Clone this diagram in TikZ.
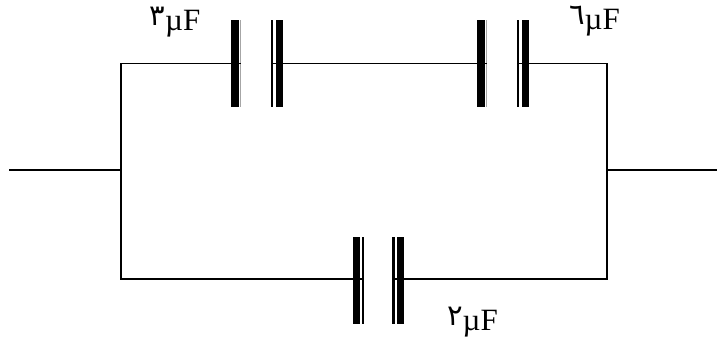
\documentclass[tikz,border=0pt]{standalone}
\usepackage{fontspec}
\setmainfont{Liberation Serif}
\newfontfamily\arabicfont[Script=Arabic]{DejaVu Sans}
\newcommand{\arabdigit}[1]{\makebox[15.5pt]{\raisebox{5pt}{\arabicfont\fontsize{29}{29}\selectfont #1}}}
\tikzset{
  x=1pt,y=-1pt,
  wire/.style={draw=black,line width=1.7pt},
  thickplate/.style={fill=black,draw=none,inner sep=0pt,minimum width=7.5pt,minimum height=87pt},
  thinplate/.style={fill=black,draw=none,inner sep=0pt,minimum width=2.2pt,minimum height=87pt},
  ghostplate/.style={fill=gray!70,draw=none,inner sep=0pt,minimum width=1pt,minimum height=87pt},
  value/.style={font=\fontsize{31}{31}\selectfont,inner sep=0pt,anchor=base west},
}
\begin{document}
\begin{tikzpicture}
\useasboundingbox (0,0) rectangle (720,343);
\fill[white] (0,0) rectangle (720,343);
% junctions
\coordinate (inL) at (9,170);
\coordinate (jL) at (121,170);
\coordinate (jR) at (607,170);
\coordinate (outR) at (717,170);
\coordinate (tl) at (121,63.5);
\coordinate (tr) at (607,63.5);
\coordinate (bl) at (121,279);
\coordinate (br) at (607,279);
% capacitor 1
\node[thickplate] (a1) at (235,63.5) {};
\node[ghostplate] (a1g) at (240.8,63.5) {};
\node[thinplate] (a2) at (272.2,63.5) {};
\node[thickplate] (a3) at (279.3,63.5) {};
% capacitor 2
\node[thickplate] (b1) at (481,63.5) {};
\node[ghostplate] (b1g) at (486.8,63.5) {};
\node[thinplate] (b2) at (518.2,63.5) {};
\node[thickplate] (b3) at (525.5,63.5) {};
% capacitor 3
\node[thickplate] (c1) at (356.6,280.5) {};
\node[thinplate] (c1g) at (362.6,280.5) {};
\node[thinplate] (c2) at (393.4,280.5) {};
\node[thickplate] (c3) at (400.5,280.5) {};
% wires
\draw[wire] (inL) -- (jL);
\draw[wire] (jR) -- (outR);
\draw[wire,line cap=square] (a1g.center |- tl) -- (tl) -- (bl) -- (c1g.center |- bl);
\draw[wire,line cap=square] (a2.center |- tl) -- (b1g.center |- tl);
\draw[wire,line cap=square] (b2.center |- tr) -- (tr) -- (br) -- (c2.center |- br);
% labels
\node[value] (la) at (149.5,30) {\arabdigit{٣}µF};
\node[value] (lb) at (569,29) {\arabdigit{٦}µF};
\node[value] (lc) at (447,330) {\arabdigit{٢}µF};
\end{tikzpicture}
\end{document}
